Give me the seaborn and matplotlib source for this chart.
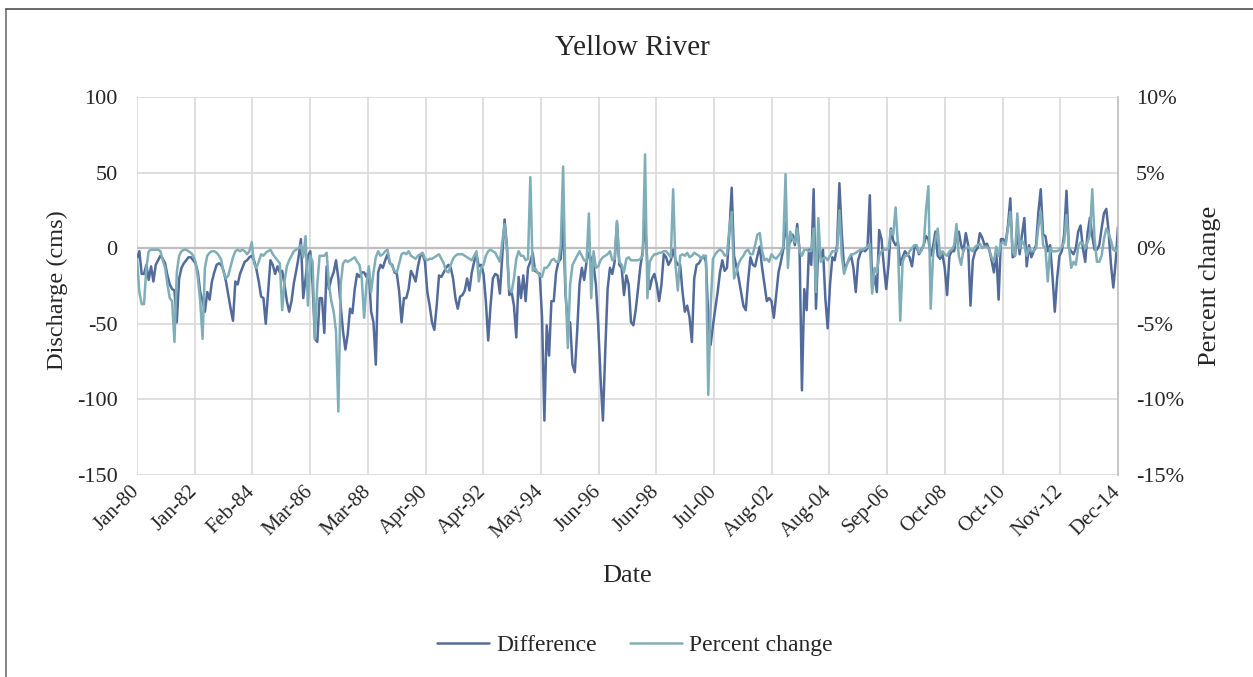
import numpy as np
import pandas as pd
import matplotlib
matplotlib.use("Agg")
import matplotlib.pyplot as plt
from matplotlib.lines import Line2D
import seaborn as sns

# Monthly series, Jan-1980 .. Dec-2014 (one row per year)
difference = [
    -7, -2, -17, -17, -11, -21, -12, -22, -11, -8, -5, -7,
    -10, -18, -24, -27, -28, -49, -20, -13, -10, -8, -6, -6,
    -8, -10, -16, -29, -35, -42, -29, -34, -22, -16, -11, -10,
    -11, -15, -22, -31, -40, -48, -22, -24, -17, -13, -9, -8,
    -6, -5, -8, -14, -22, -32, -33, -50, -29, -8, -11, -17,
    -12, -16, -15, -24, -35, -42, -35, -23, -15, -6, 6, -33,
    -20, -5, -2, -24, -60, -62, -33, -33, -56, -12, -27, -20,
    -16, -8, -20, -38, -55, -67, -57, -40, -43, -27, -17, -19,
    -16, -16, -19, -15, -42, -49, -77, -16, -11, -13, -8, -4,
    -10, -11, -16, -17, -29, -49, -33, -33, -27, -15, -18, -22,
    -12, -5, -4, -9, -29, -38, -49, -54, -38, -18, -19, -16,
    -13, -11, -13, -20, -33, -40, -32, -31, -28, -20, -28, -16,
    -9, -4, -12, -11, -17, -35, -61, -38, -20, -17, -18, -30,
    -5, 19, 1, -31, -29, -38, -59, -19, -33, -18, -35, -13,
    -9, -3, -15, -16, -17, -46, -114, -51, -71, -35, -35, -16,
    -9, -7, 20, -30, -50, -49, -77, -82, -55, -24, -13, -21,
    -9, -3, -7, -11, -24, -51, -86, -114, -68, -27, -13, -17,
    -9, 17, -11, -13, -31, -18, -24, -49, -51, -41, -27, -12,
    -2, 19, -11, -27, -20, -17, -24, -35, -24, -4, -6, -11,
    -8, -1, -8, -11, -11, -29, -42, -38, -46, -62, -20, -11,
    -10, -7, -5, -9, -46, -64, -51, -40, -29, -16, -8, -15,
    -13, 10, 40, -5, -12, -20, -29, -38, -41, -22, -6, -11,
    -12, -5, 1, -13, -24, -35, -33, -35, -46, -31, -16, -9,
    -1, 17, 2, 4, 9, 2, 16, -2, -94, -27, -41, -1,
    -11, 39, -40, 2, -6, -1, -33, -53, -24, -6, -8, 2,
    43, 10, -13, -11, -8, -5, -13, -29, -8, -3, -1, -2,
    0, 35, -27, -18, -29, 12, 6, -12, -27, -11, 13, 5,
    2, 4, -11, -6, -2, -4, -6, -12, 0, 1, -4, -1,
    2, 8, 6, -5, 1, 11, -5, -7, -4, -13, -31, -5,
    -2, -2, 9, 11, 2, -2, 10, 2, -38, -8, -2, 0,
    10, 7, 2, 3, -1, -8, -16, -2, -34, 6, 6, 3,
    15, 33, -6, -5, 11, -4, 9, 20, -12, 2, -6, -2,
    2, 24, 39, 9, 8, -2, 2, -18, -42, -20, -5, -2,
    9, 38, 0, -2, -4, 0, 11, 15, 0, -9, 10, 20,
    8, -1, -1, 2, 13, 23, 26, 11, -11, -26, -9, 14,
]

percent_change = [
    -0.7, -2.9, -3.7, -3.7, -1.3, -0.2, -0.1, -0.1, -0.1, -0.1, -0.2, -0.8,
    -1.3, -2.4, -3.3, -3.5, -6.2, -1.6, -0.5, -0.2, -0.1, -0.1, -0.2, -0.3,
    -0.5, -0.9, -2.0, -3.5, -6.0, -1.3, -0.5, -0.3, -0.2, -0.2, -0.3, -0.5,
    -0.8, -1.6, -2.0, -1.8, -1.2, -0.6, -0.2, -0.1, -0.2, -0.1, -0.2, -0.4,
    -0.2, 0.4, -1.0, -1.3, -0.9, -0.4, -0.5, -0.3, -0.2, -0.1, -0.4, -0.6,
    -0.8, -1.0, -4.1, -2.2, -1.2, -0.8, -0.5, -0.2, -0.1, 0.0, 0.2, -0.6,
    0.8, -3.8, -0.5, -0.9, -6.0, -2.4, -0.5, -0.5, -0.5, -0.3, -2.4, -3.5,
    -4.2, -5.5, -10.8, -2.4, -1.0, -0.8, -0.9, -0.8, -0.7, -0.6, -0.9, -1.1,
    -2.0, -4.6, -2.4, -1.2, -2.9, -1.6, -0.6, -0.2, -0.5, -0.4, -0.2, -0.1,
    -0.9, -1.2, -1.5, -1.6, -1.0, -0.4, -0.3, -0.4, -0.2, -0.5, -0.6, -0.7,
    -0.5, -0.4, -0.3, -0.7, -0.8, -0.7, -0.7, -0.6, -0.5, -0.4, -0.7, -1.0,
    -1.5, -1.6, -1.1, -0.7, -0.5, -0.4, -0.4, -0.4, -0.5, -0.6, -0.7, -0.8,
    -0.5, -0.2, -2.2, -1.3, -1.1, -0.5, -0.2, -0.1, -0.2, -0.3, -0.6, -0.9,
    0.4, 1.6, 0.0, -2.7, -2.9, -2.0, -0.7, -0.2, -0.5, -0.5, -0.8, -0.7,
    4.7, -1.5, -1.3, -1.6, -1.8, -1.9, -1.3, -1.3, -1.1, -0.8, -0.7, -0.9,
    -0.9, 0.2, 5.4, -2.4, -6.6, -2.4, -1.1, -0.8, -0.5, -0.2, -0.5, -0.8,
    -0.9, 2.3, -3.3, -0.2, -1.3, -1.2, -0.8, -0.6, -0.5, -0.4, -0.2, -0.8,
    -0.7, 1.8, -0.9, -1.1, -1.6, -0.7, -0.6, -0.8, -0.8, -0.8, -0.8, -0.7,
    -0.5, 6.2, -3.3, -0.9, -0.6, -0.4, -0.4, -0.3, -0.3, -0.2, -0.2, -0.4,
    -0.6, 3.9, -1.1, -2.8, -0.5, -0.4, -0.5, -0.3, -0.6, -0.5, -0.3, -0.4,
    -0.5, -0.7, -0.5, -0.5, -9.7, -4.0, -0.7, -0.4, -0.2, -0.1, -0.2, -0.5,
    -0.4, 1.3, 2.4, -2.0, -1.6, -1.0, -0.7, -0.5, -0.2, -0.1, -0.4, -0.4,
    0.2, 0.9, 1.0, -0.2, -0.8, -0.7, -0.9, -0.4, -0.6, -0.7, -0.5, -0.3,
    0.1, 4.9, -1.3, 1.1, 0.6, 0.4, 1.3, -0.2, -0.5, -0.1, -0.1, -0.2,
    -0.2, 1.3, -2.9, 2.0, -0.9, -0.7, -0.6, -0.8, -0.5, -0.2, -0.2, -0.2,
    2.5, -0.5, -1.7, -1.2, -0.7, -0.4, -0.4, -0.3, -0.2, -0.1, -0.1, 0.0,
    0.1, 0.3, -3.0, -1.3, -1.6, -0.5, -0.2, -0.1, -0.1, 0.0, 1.2, 0.9,
    2.7, 0.2, -4.8, -0.9, -0.5, -0.5, -0.2, 0.0, 0.2, 0.2, -0.3, -0.2,
    0.2, 2.5, 4.1, -4.0, -0.5, 0.6, 1.3, -0.5, -0.2, -0.4, -0.5, -0.2,
    -0.1, 0.2, 1.6, -0.5, -1.1, -0.1, 0.0, 0.1, -0.1, -0.2, 0.1, 0.2,
    0.3, 0.0, 0.1, 0.1, -0.1, -0.6, -0.9, 0.1, -0.5, 0.3, 0.4, 0.2,
    1.3, 2.4, -0.2, -0.5, 2.3, 0.0, 0.5, 0.2, -0.5, 0.0, -0.2, -0.2,
    0.0, 1.4, 2.4, 0.2, 0.0, -2.2, 0.0, -0.2, -0.2, -0.2, -0.1, 0.1,
    0.4, 2.2, 0.2, -1.3, -0.9, -1.1, 0.1, 0.4, 0.3, 0.0, 0.4, 0.9,
    3.9, 0.6, -0.9, -0.9, -0.5, 0.6, 1.3, 1.0, 0.5, -0.1, -0.2, 0.1,
]

date_labels = ["Jan-80", "Jan-82", "Feb-84", "Mar-86", "Mar-88", "Apr-90",
               "Apr-92", "May-94", "Jun-96", "Jun-98", "Jul-00", "Aug-02",
               "Aug-04", "Sep-06", "Oct-08", "Oct-10", "Nov-12", "Dec-14"]
left_ticks = [100, 50, 0, -50, -100, -150]
right_ticks = [10, 5, 0, -5, -10, -15]

sns.set_theme(style="white")
plt.rcParams["font.family"] = ["Liberation Serif", "DejaVu Serif"]
plt.rcParams["axes.unicode_minus"] = False

DARK = "#526b9b"
TEAL = "#80aeb8"
GRID = "#d9d9d9"
TEXT = "#262626"

n = len(difference)
df = pd.DataFrame({
    "month": np.arange(n),
    "Difference": difference,
    "Percent change": percent_change,
})

fig = plt.figure(figsize=(12.53, 6.77), dpi=100)
ax = fig.add_axes([137 / 1253, 1 - 475 / 677, (1118 - 137) / 1253, (475 - 97) / 677])
ax2 = ax.twinx()

sns.lineplot(data=df, x="month", y="Difference", ax=ax, color=DARK,
             linewidth=1.8, zorder=3)
sns.lineplot(data=df, x="month", y="Percent change", ax=ax2, color=TEAL,
             linewidth=1.8, zorder=3)

tick_pos = np.linspace(0, n - 1, len(date_labels))
ax.set_xlim(0, n - 1)
ax.set_xticks(tick_pos)
ax.set_xticklabels(date_labels, rotation=45, ha="right", va="center",
                   rotation_mode="anchor", fontsize=15, color=TEXT)

ax.set_ylim(-150, 100)
ax.set_yticks(left_ticks)
ax.set_yticklabels([str(v) for v in left_ticks], fontsize=16, color=TEXT)
ax2.set_ylim(-15, 10)
ax2.set_yticks(right_ticks)
ax2.set_yticklabels([f"{v}%" for v in right_ticks], fontsize=16, color=TEXT)

ax.grid(True, color=GRID, linewidth=1.2, zorder=0)
ax.set_axisbelow(True)
ax.axhline(0, color="#bfbfbf", linewidth=1.6, zorder=2)
ax.tick_params(axis="x", length=0, pad=10)
ax.tick_params(axis="y", length=0, pad=14)
ax2.tick_params(axis="y", length=0, pad=13)

for a in (ax, ax2):
    for side in ("top", "bottom", "left", "right"):
        a.spines[side].set_visible(False)
ax2.spines["right"].set_visible(True)
ax2.spines["right"].set_color("#bfbfbf")
ax2.spines["right"].set_linewidth(1.2)

ax.set_xlabel("")
ax.set_ylabel("")
ax2.set_ylabel("")

fig.text(632 / 1253, 1 - 48 / 677, "Yellow River", ha="center", va="center",
         fontsize=21, color=TEXT)
fig.text(57 / 1253, 1 - 290 / 677, "Discharge (cms)", rotation=90,
         ha="center", va="center", fontsize=17.5, color=TEXT)
fig.text(1210 / 1253, 1 - 286 / 677, "Percent change", rotation=90,
         ha="center", va="center", fontsize=19, color=TEXT)
fig.text(627 / 1253, 1 - 576 / 677, "Date", ha="center", va="center",
         fontsize=19, color=TEXT)

handles = [Line2D([], [], color=DARK, linewidth=1.8),
           Line2D([], [], color=TEAL, linewidth=1.8)]
fig.legend(handles, ["Difference", "Percent change"], loc="center",
           bbox_to_anchor=(635 / 1253, 1 - 645 / 677), ncol=2, frameon=False,
           fontsize=17, handlelength=2.2, handletextpad=0.3,
           columnspacing=1.4, labelcolor=TEXT)

# Outer chart border (left and top edges)
fig.add_artist(Line2D([6 / 1253, 6 / 1253], [0, 1 - 9 / 677],
                      transform=fig.transFigure, color="#707070", linewidth=1.2))
fig.add_artist(Line2D([6 / 1253, 1], [1 - 9 / 677, 1 - 9 / 677],
                      transform=fig.transFigure, color="#505050", linewidth=1.2))

fig.savefig("out.png", dpi=100, facecolor="white")
